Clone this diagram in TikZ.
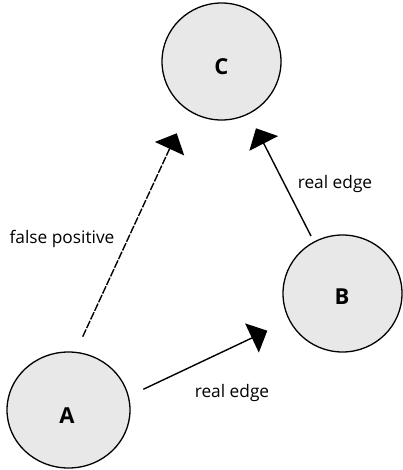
\documentclass[tikz,border=0pt]{standalone}
\usepackage{fontspec}
\setmainfont{Open Sans}
\usetikzlibrary{arrows.meta,calc,shapes.geometric}
\definecolor{nodefill}{HTML}{E8E8E8}
\tikzset{
  vertex/.style={ellipse, draw=black, line width=1.3pt, fill=nodefill, inner sep=0pt},
  vlabel/.style={font=\fontsize{22}{26}\selectfont\bfseries},
  elabel/.style={font=\fontsize{17.3}{21}\selectfont, inner sep=0pt},
  edgearrow/.style={line width=1.4pt, -{Triangle[length=17pt,width=32pt]}},
}
\begin{document}
\begin{tikzpicture}[x=1pt,y=-1pt]
\useasboundingbox (0,0) rectangle (403,470);
\node[vertex, minimum width=119pt, minimum height=117pt] (C) at (221.5,61.5) {};
\node[vertex, minimum width=119pt, minimum height=117pt] (B) at (342.5,293.5) {};
\node[vertex, minimum width=123pt, minimum height=116pt] (A) at (68.5,410) {};
\node[vlabel] (Ct) at (221.5,67) {C};
\node[vlabel] (Bt) at (342,297) {B};
\node[vlabel] (At) at (67,416) {A};
\coordinate (aS) at ($(A)+(14.2,-73.3)$);
\coordinate (cT) at ($(C)+(-44.8,71.8)$);
\coordinate (aR) at ($(A)+(74.8,-20.7)$);
\coordinate (bL) at ($(B)+(-75.2,37.2)$);
\coordinate (bT) at ($(B)+(-31.5,-57.5)$);
\coordinate (cR) at ($(C)+(34.5,66.8)$);
\draw[edgearrow, dash pattern=on 8pt off 1.5pt] (aS) -- (cT);
\draw[edgearrow] (aR) -- (bL);
\draw[edgearrow] (bT) -- (cR);
\node[elabel] (l1) at (62,239) {false positive};
\node[elabel] (l2) at (232,393) {real edge};
\node[elabel] (l3) at (335,184) {real edge};
\end{tikzpicture}
\end{document}
